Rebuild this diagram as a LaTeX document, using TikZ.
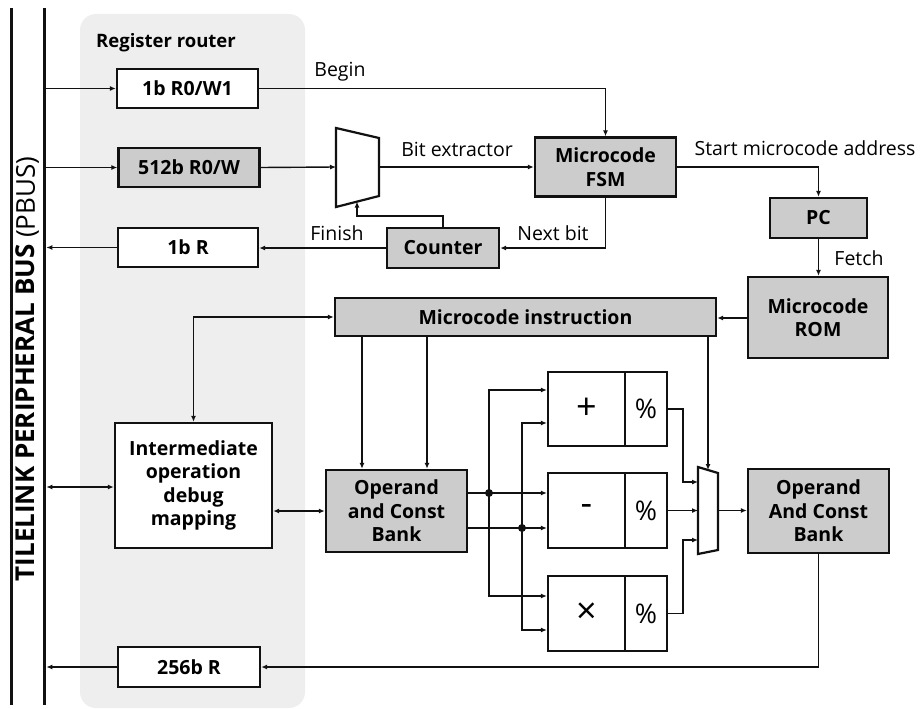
\documentclass[tikz,border=0pt]{standalone}
\usepackage{fontspec}
\setmainfont{Open Sans}
\usetikzlibrary{arrows.meta,calc}
\definecolor{boxgray}{HTML}{CCCCCC}
\definecolor{regiongray}{HTML}{EEEEEE}
\definecolor{ink}{HTML}{111111}
\tikzset{
  blk/.style={draw=ink, line width=2.4pt, align=center, inner sep=0pt,
    font=\bfseries\fontsize{19.5}{23.5}\selectfont},
  gblk/.style={blk, fill=boxgray},
  wblk/.style={blk, fill=white},
  alu/.style={draw=ink, line width=2.2pt, fill=white, inner sep=0pt, minimum height=74pt},
  opsym/.style={font=\fontsize{36}{38}\selectfont},
  modsym/.style={font=\fontsize{27}{30}\selectfont},
  conn/.style={draw=ink, line width=1.4pt, -{Latex[length=6pt,width=5pt]}},
  bconn/.style={draw=ink, line width=1.4pt, {Latex[length=6pt,width=5pt]}-{Latex[length=6pt,width=5pt]}},
  lbl/.style={font=\fontsize{19.5}{22}\selectfont, inner sep=0pt},
  muxshape/.style={draw=ink, line width=2.2pt, fill=white, line join=miter},
  busbar/.style={fill=ink, inner sep=0pt, minimum width=3.2pt, minimum height=697pt},
}
\begin{document}
\begin{tikzpicture}[x=1pt,y=-1pt]
\useasboundingbox (0,0) rectangle (921,709);
% region
\fill[regiongray, rounded corners=16pt] (80,14) rectangle (305,708);
\node[font=\bfseries\fontsize{18.5}{20}\selectfont, inner sep=0pt] (rr) at (166,43) {Register router};
% bus
\node[busbar] (busout) at (11.5,356.5) {};
\node[busbar] (bus) at (44.5,356.5) {};
\node[rotate=90, inner sep=0pt, font=\fontsize{26}{28}\selectfont] (bustxt) at (27.5,369) {\bfseries TILELINK PERIPHERAL BUS \mdseries(PBUS)};
% register boxes
\node[wblk, minimum width=141pt, minimum height=39pt] (r1) at (187.5,88.5) {1b R0/W1};
\node[gblk, minimum width=141pt, minimum height=39pt] (r2) at (189,167.5) {512b R0/W};
\node[wblk, minimum width=140pt, minimum height=39pt] (r3) at (188,247.5) {1b R};
\node[wblk, minimum width=142pt, minimum height=40pt] (r4) at (189,667) {256b R};
% control
\node[gblk, minimum width=141pt, minimum height=59pt] (fsm) at (605.5,167) {Microcode\\FSM};
\node[gblk, minimum width=97pt, minimum height=40pt] (pc) at (818.5,218) {PC};
\node[gblk, minimum width=140pt, minimum height=81pt] (rom) at (818,317.5) {Microcode\\ROM};
\node[gblk, minimum width=112pt, minimum height=40pt] (cnt) at (443,248) {Counter};
\node[gblk, minimum width=381pt, minimum height=38pt] (instr) at (525.5,317) {Microcode instruction};
\node[wblk, minimum width=157pt, minimum height=125pt] (inter) at (193.5,485.5) {Intermediate\\operation\\debug\\mapping};
\node[gblk, minimum width=141pt, minimum height=82pt] (opL) at (396.5,511) {Operand\\and Const\\Bank};
\node[gblk, minimum width=141pt, minimum height=84pt] (opR) at (818.5,511) {Operand\\And Const\\Bank};
% ALU boxes
\node[alu, minimum width=77pt, opsym] (addL) at (586.5,409) {+};
\node[alu, minimum width=42pt, modsym] (addR) at (646,409) {\%};
\node[alu, minimum width=77pt, minimum height=75pt, opsym] (subL) at (586.5,510.5) {-};
\node[alu, minimum width=42pt, minimum height=75pt, modsym] (subR) at (646,510.5) {\%};
\node[alu, minimum width=77pt, minimum height=75pt, opsym] (mulL) at (586.5,613.5) {×};
\node[alu, minimum width=42pt, minimum height=75pt, modsym] (mulR) at (646,613.5) {\%};
% muxes
\draw[muxshape] (336,128) -- (379,138) -- (379,196) -- (336,207) -- cycle;
\coordinate (m1in) at (336,167);
\coordinate (m1out) at (379,167);
\coordinate (m1c) at (357,201.5);
\draw[muxshape] (698,467) -- (718,473) -- (718,550) -- (698,554) -- cycle;
\coordinate (m2a) at (698,482);
\coordinate (m2b) at (698,510.5);
\coordinate (m2c) at (698,540);
\coordinate (m2o) at (718,510.5);
\coordinate (m2t) at (708,470);
% connectors: register side
\draw[conn] (bus.east |- r1.west) -- (r1.west);
\draw[conn] (bus.east |- r2.west) -- (r2.west);
\draw[conn] (r3.west) -- (bus.east |- r3.west);
\draw[conn] (r4.west) -- (bus.east |- r4.west);
\draw[bconn] (bus.east |- 0,487) -- (inter.west |- 0,487);
\draw[conn] (r1.east) -| (fsm.north);
\draw[conn] (r2.east) -- (m1in);
\draw[conn] (m1out) -- (fsm.west |- m1out);
\draw[conn] (fsm.east) -| (pc.north);
\draw[conn] (pc.south) -- (pc.south |- rom.north);
\draw[conn] (fsm.south) |- (cnt.east);
\draw[conn] (cnt.north) -- ++(0,-11) -| (m1c);
\draw[conn] (cnt.west) -- (r3.east |- cnt.west);
\draw[conn] (rom.west |- 0,318) -- (instr.east |- 0,318);
\draw[bconn] (instr.west) -| (inter.north);
\draw[bconn] (inter.east |- opL.west) -- (opL.west);
\draw[conn] (instr.south -| 362,0) -- (opL.north -| 362,0);
\draw[conn] (instr.south -| 427,0) -- (opL.north -| 427,0);
\draw[conn] (instr.south -| m2t) -- (m2t);
% ALU inputs
\coordinate (d1) at (489,493);
\coordinate (d2) at (522,528);
\draw[conn] (opL.east |- d1) -- (subL.west |- d1);
\draw[conn] (opL.east |- d2) -- (subL.west |- d2);
\draw[conn] (d1) |- (addL.west |- 0,390);
\draw[conn] (d1) |- (mulL.west |- 0,596);
\draw[conn] (d2) |- (addL.west |- 0,423);
\draw[conn] (d2) |- (mulL.west |- 0,630);
\fill[ink] (d1) circle (4pt);
\fill[ink] (d2) circle (4pt);
% ALU outputs
\draw[conn] (addR.east) -- ++(15,0) |- (m2a);
\draw[conn] (subR.east) -- (m2b);
\draw[conn] (mulR.east) -- ++(15,0) |- (m2c);
\draw[conn] (m2o) -- (opR.west |- m2o);
\draw[conn] (opR.south) |- (r4.east);
% labels
\node[lbl] (lbegin) at (340,72) {Begin};
\node[lbl] (lbit) at (457,149) {Bit extractor};
\node[lbl] (lstart) at (805,148) {Start microcode address};
\node[lbl] (lfetch) at (859,258) {Fetch};
\node[lbl] (lfin) at (337,233) {Finish};
\node[lbl] (lnext) at (553,233) {Next bit};
\end{tikzpicture}
\end{document}
